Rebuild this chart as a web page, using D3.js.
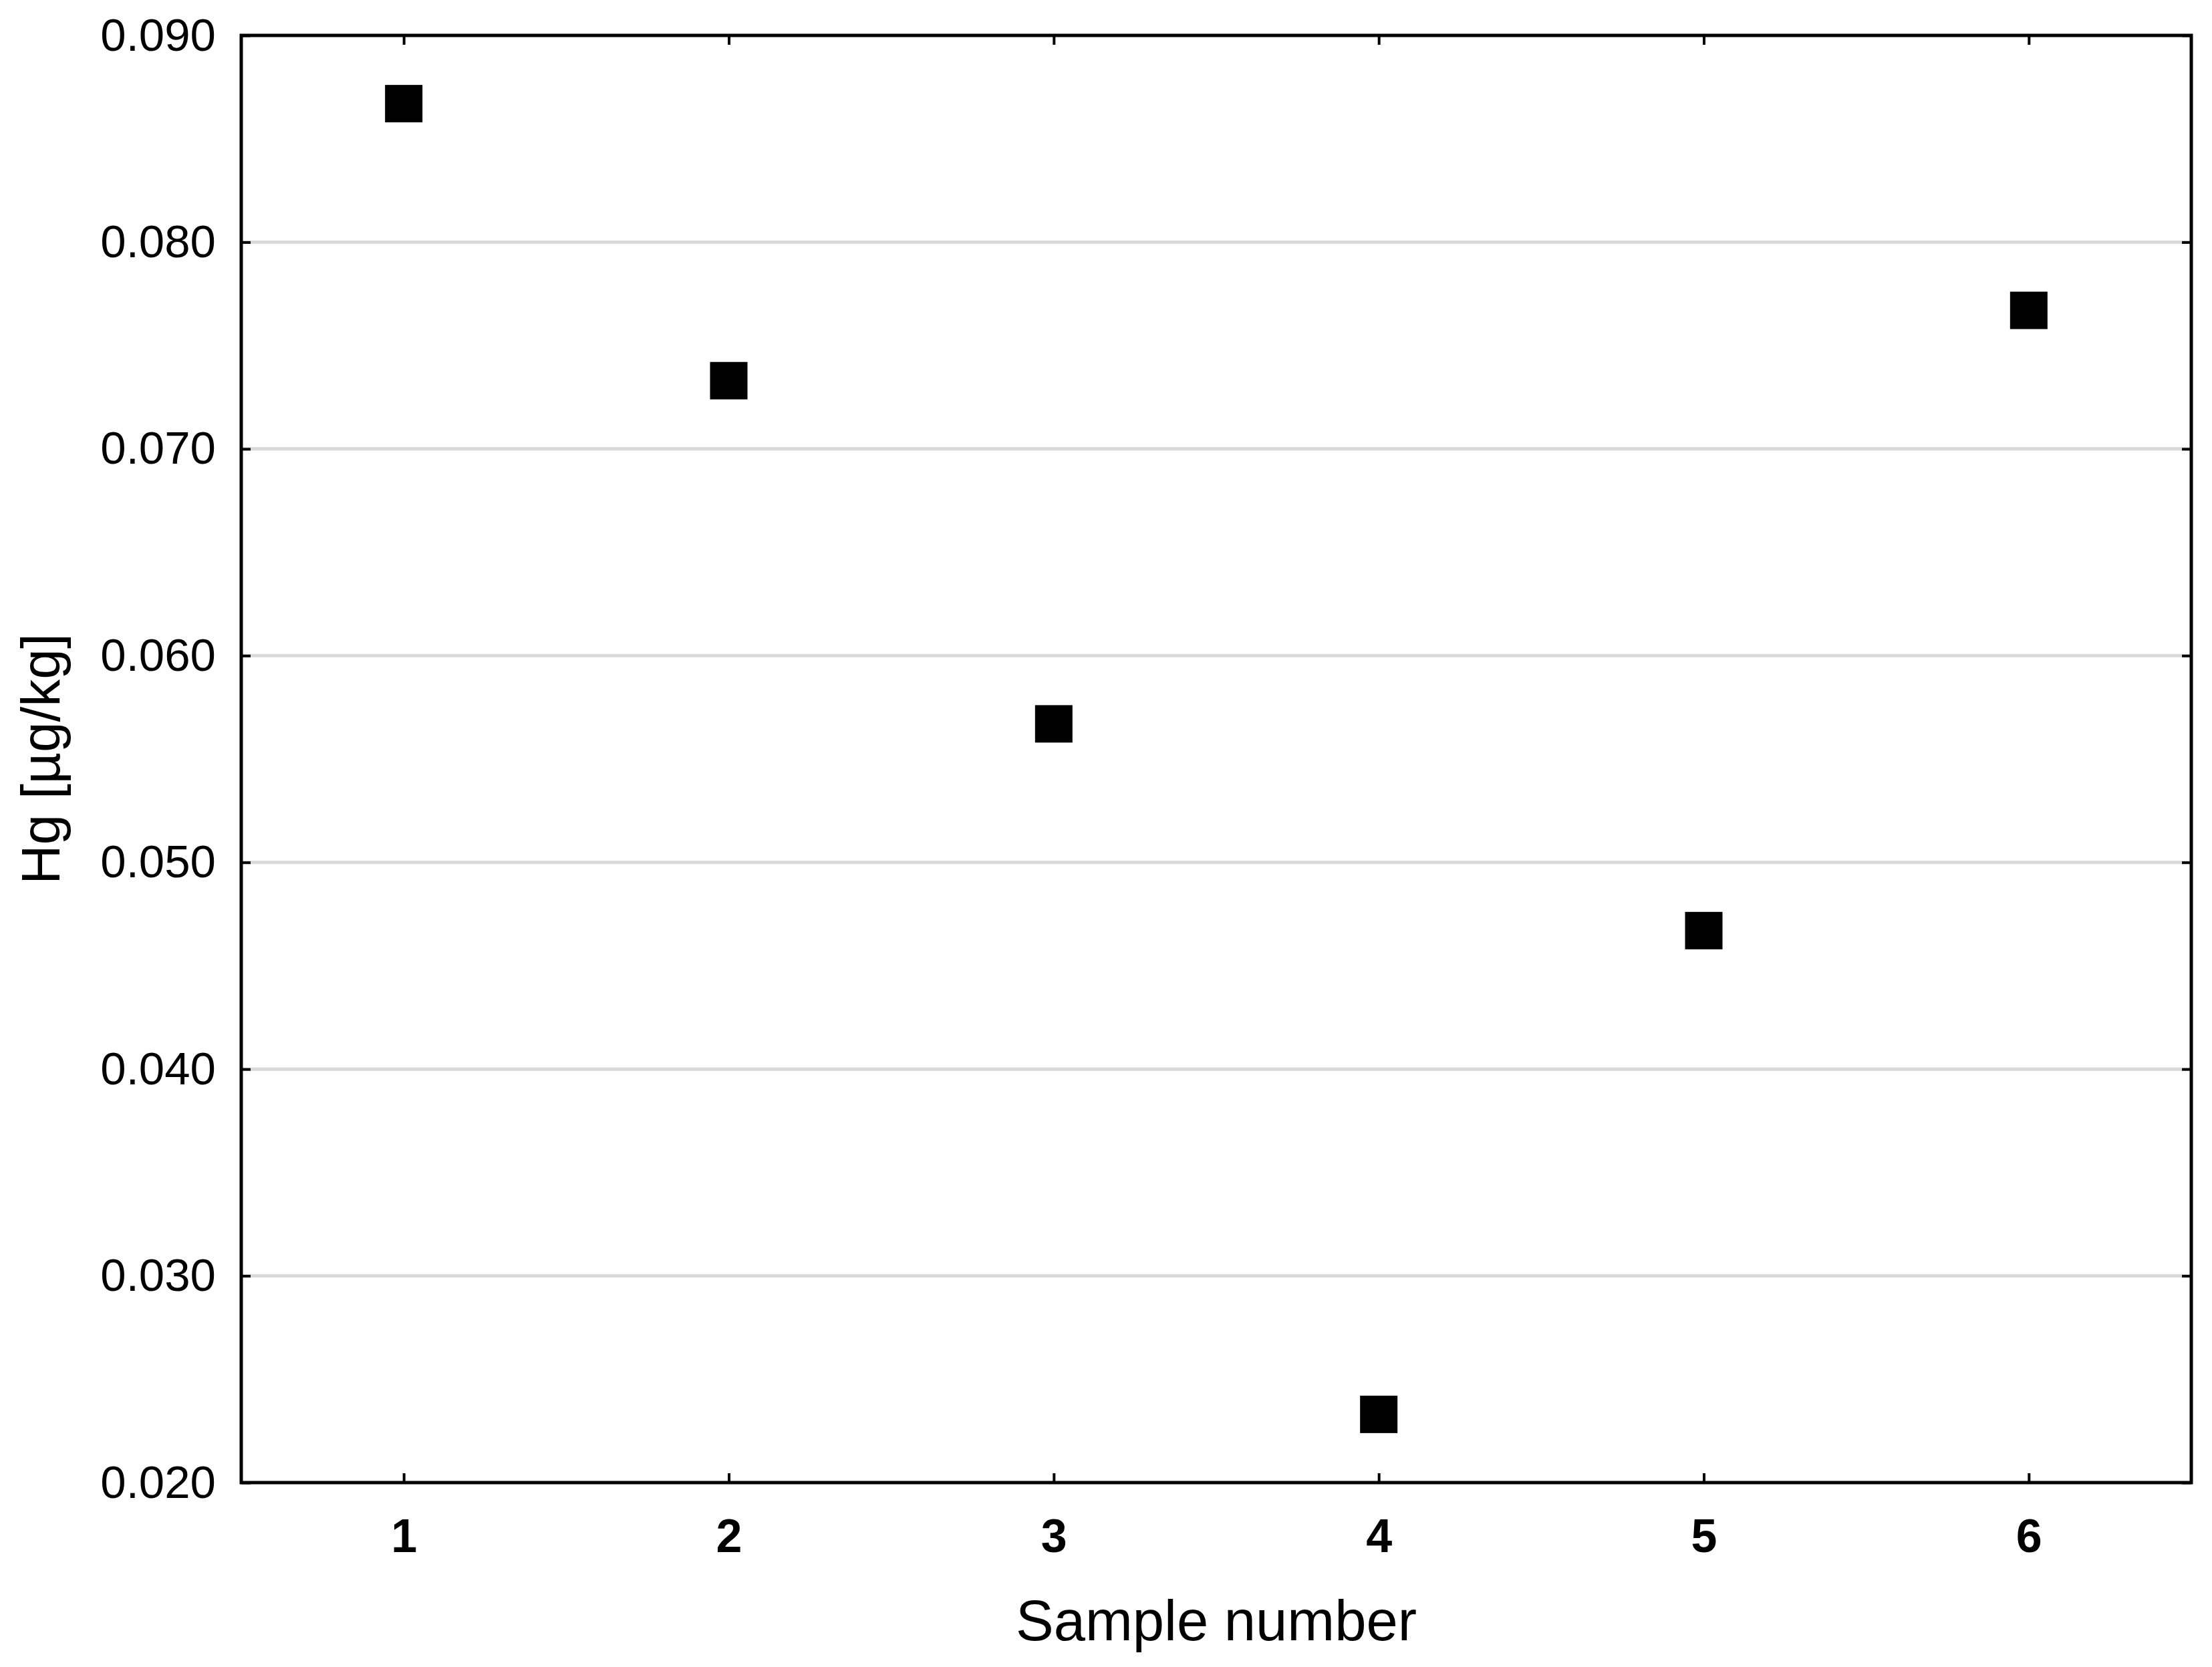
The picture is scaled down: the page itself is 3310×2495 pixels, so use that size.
<!DOCTYPE html>
<html>
<head>
<meta charset="utf-8">
<script src="https://cdn.jsdelivr.net/npm/d3@7"></script>
<style>
  html, body { margin: 0; padding: 0; background: #fff; }
  svg { display: block; }
</style>
</head>
<body>
<script>
// ---- Data ----
const samples = [1, 2, 3, 4, 5, 6];
const hgValues = [0.0867, 0.0733, 0.0567, 0.0233, 0.0467, 0.0767];
const yTicks = [0.020, 0.030, 0.040, 0.050, 0.060, 0.070, 0.080, 0.090];
const xLabel = "Sample number";
const yLabel = "Hg [µg/kg]";

// ---- Layout ----
const W = 3310, H = 2495;
const m = { left: 361, right: 3279, top: 53, bottom: 2219 };

const svg = d3.select("body").append("svg")
  .attr("width", W).attr("height", H)
  .style("font-family", "'Liberation Sans', Arial, sans-serif");

const x = d3.scaleLinear().domain([0.5, 6.5]).range([m.left, m.right]);
const y = d3.scaleLinear().domain([0.020, 0.090]).range([m.bottom, m.top]);

// gridlines
svg.append("g")
  .selectAll("line")
  .data(yTicks.filter(v => v > 0.020 && v < 0.090))
  .join("line")
  .attr("x1", m.left).attr("x2", m.right)
  .attr("y1", d => y(d)).attr("y2", d => y(d))
  .attr("stroke", "#d9d9d9").attr("stroke-width", 5);

// axes
const tickLen = 14;
const styleAxis = g => {
  g.select(".domain").remove();
  g.selectAll(".tick line").attr("stroke", "#000").attr("stroke-width", 4);
};

svg.append("g")
  .attr("transform", `translate(${m.left},0)`)
  .call(d3.axisLeft(y).tickValues(yTicks).tickFormat(d3.format(".3f")).tickSizeInner(-tickLen).tickSizeOuter(0).tickPadding(38))
  .call(styleAxis)
  .call(g => g.selectAll(".tick text").attr("font-size", 69).attr("fill", "#000")
    .attr("font-family", "'Liberation Sans', Arial, sans-serif"));

svg.append("g")
  .attr("transform", `translate(${m.right},0)`)
  .call(d3.axisRight(y).tickValues(yTicks).tickSizeInner(-tickLen).tickSizeOuter(0).tickFormat(""))
  .call(styleAxis);

svg.append("g")
  .attr("transform", `translate(0,${m.bottom})`)
  .call(d3.axisBottom(x).tickValues(samples).tickFormat(d3.format("d")).tickSizeInner(-tickLen).tickSizeOuter(0).tickPadding(0))
  .call(styleAxis)
  .call(g => g.selectAll(".tick text").attr("font-size", 70).attr("font-weight", "bold")
    .attr("fill", "#000").attr("dy", null).attr("y", 104)
    .attr("font-family", "'Liberation Sans', Arial, sans-serif"));

svg.append("g")
  .attr("transform", `translate(0,${m.top})`)
  .call(d3.axisTop(x).tickValues(samples).tickSizeInner(-tickLen).tickSizeOuter(0).tickFormat(""))
  .call(styleAxis);

// frame
svg.append("rect")
  .attr("x", m.left).attr("y", m.top)
  .attr("width", m.right - m.left).attr("height", m.bottom - m.top)
  .attr("fill", "none").attr("stroke", "#000").attr("stroke-width", 5);

// markers
const sz = 56;
svg.append("g")
  .selectAll("rect")
  .data(samples.map((s, i) => ({ s, v: hgValues[i] })))
  .join("rect")
  .attr("x", d => x(d.s) - sz / 2)
  .attr("y", d => y(d.v) - sz / 2)
  .attr("width", sz).attr("height", sz)
  .attr("fill", "#000");

// axis titles
svg.append("text")
  .attr("x", (m.left + m.right) / 2).attr("y", 2455)
  .attr("text-anchor", "middle")
  .attr("font-size", 85).attr("fill", "#000")
  .text(xLabel);

svg.append("text")
  .attr("transform", `translate(89,${(m.top + m.bottom) / 2}) rotate(-90)`)
  .attr("text-anchor", "middle")
  .attr("font-size", 82).attr("fill", "#000")
  .text(yLabel);
</script>
</body>
</html>
